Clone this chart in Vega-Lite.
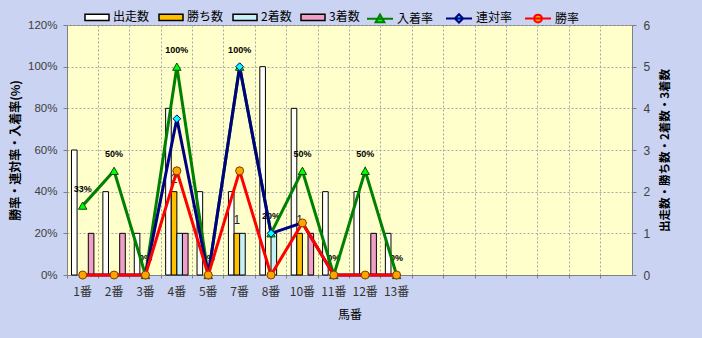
{
  "$schema": "https://vega.github.io/schema/vega-lite/v6.json",
  "width": 565,
  "height": 250,
  "autosize": {"type": "none"},
  "padding": {"left": 67, "top": 25, "right": 70, "bottom": 63},
  "background": "#CAD3F1",
  "config": {
    "view": {"fill": "#FFFFCC", "stroke": "#808080", "strokeWidth": 1},
    "font": "Noto Sans CJK JP",
    "axis": {
      "domainColor": "#808080",
      "tickColor": "#808080",
      "gridColor": "#A8A8A8",
      "gridDash": [2, 2],
      "titleColor": "#000000",
      "labelColor": "#404040"
    }
  },
  "datasets": {
    "counts": [
      {"horse": "1番", "type": "出走数", "count": 3},
      {"horse": "1番", "type": "勝ち数", "count": 0},
      {"horse": "1番", "type": "2着数", "count": 0},
      {"horse": "1番", "type": "3着数", "count": 1},
      {"horse": "2番", "type": "出走数", "count": 2},
      {"horse": "2番", "type": "勝ち数", "count": 0},
      {"horse": "2番", "type": "2着数", "count": 0},
      {"horse": "2番", "type": "3着数", "count": 1},
      {"horse": "3番", "type": "出走数", "count": 1},
      {"horse": "3番", "type": "勝ち数", "count": 0},
      {"horse": "3番", "type": "2着数", "count": 0},
      {"horse": "3番", "type": "3着数", "count": 0},
      {"horse": "4番", "type": "出走数", "count": 4},
      {"horse": "4番", "type": "勝ち数", "count": 2},
      {"horse": "4番", "type": "2着数", "count": 1},
      {"horse": "4番", "type": "3着数", "count": 1},
      {"horse": "5番", "type": "出走数", "count": 2},
      {"horse": "5番", "type": "勝ち数", "count": 0},
      {"horse": "5番", "type": "2着数", "count": 0},
      {"horse": "5番", "type": "3着数", "count": 0},
      {"horse": "7番", "type": "出走数", "count": 2},
      {"horse": "7番", "type": "勝ち数", "count": 1},
      {"horse": "7番", "type": "2着数", "count": 1},
      {"horse": "7番", "type": "3着数", "count": 0},
      {"horse": "8番", "type": "出走数", "count": 5},
      {"horse": "8番", "type": "勝ち数", "count": 0},
      {"horse": "8番", "type": "2着数", "count": 1},
      {"horse": "8番", "type": "3着数", "count": 0},
      {"horse": "10番", "type": "出走数", "count": 4},
      {"horse": "10番", "type": "勝ち数", "count": 1},
      {"horse": "10番", "type": "2着数", "count": 0},
      {"horse": "10番", "type": "3着数", "count": 1},
      {"horse": "11番", "type": "出走数", "count": 2},
      {"horse": "11番", "type": "勝ち数", "count": 0},
      {"horse": "11番", "type": "2着数", "count": 0},
      {"horse": "11番", "type": "3着数", "count": 0},
      {"horse": "12番", "type": "出走数", "count": 2},
      {"horse": "12番", "type": "勝ち数", "count": 0},
      {"horse": "12番", "type": "2着数", "count": 0},
      {"horse": "12番", "type": "3着数", "count": 1},
      {"horse": "13番", "type": "出走数", "count": 1},
      {"horse": "13番", "type": "勝ち数", "count": 0},
      {"horse": "13番", "type": "2着数", "count": 0},
      {"horse": "13番", "type": "3着数", "count": 0}
    ],
    "rates": [
      {"horse": "1番", "series": "入着率", "rate": 0.333},
      {"horse": "2番", "series": "入着率", "rate": 0.5},
      {"horse": "3番", "series": "入着率", "rate": 0},
      {"horse": "4番", "series": "入着率", "rate": 1},
      {"horse": "5番", "series": "入着率", "rate": 0},
      {"horse": "7番", "series": "入着率", "rate": 1},
      {"horse": "8番", "series": "入着率", "rate": 0.2},
      {"horse": "10番", "series": "入着率", "rate": 0.5},
      {"horse": "11番", "series": "入着率", "rate": 0},
      {"horse": "12番", "series": "入着率", "rate": 0.5},
      {"horse": "13番", "series": "入着率", "rate": 0},
      {"horse": "1番", "series": "連対率", "rate": 0},
      {"horse": "2番", "series": "連対率", "rate": 0},
      {"horse": "3番", "series": "連対率", "rate": 0},
      {"horse": "4番", "series": "連対率", "rate": 0.75},
      {"horse": "5番", "series": "連対率", "rate": 0},
      {"horse": "7番", "series": "連対率", "rate": 1},
      {"horse": "8番", "series": "連対率", "rate": 0.2},
      {"horse": "10番", "series": "連対率", "rate": 0.25},
      {"horse": "11番", "series": "連対率", "rate": 0},
      {"horse": "12番", "series": "連対率", "rate": 0},
      {"horse": "13番", "series": "連対率", "rate": 0},
      {"horse": "1番", "series": "勝率", "rate": 0},
      {"horse": "2番", "series": "勝率", "rate": 0},
      {"horse": "3番", "series": "勝率", "rate": 0},
      {"horse": "4番", "series": "勝率", "rate": 0.5},
      {"horse": "5番", "series": "勝率", "rate": 0},
      {"horse": "7番", "series": "勝率", "rate": 0.5},
      {"horse": "8番", "series": "勝率", "rate": 0},
      {"horse": "10番", "series": "勝率", "rate": 0.25},
      {"horse": "11番", "series": "勝率", "rate": 0},
      {"horse": "12番", "series": "勝率", "rate": 0},
      {"horse": "13番", "series": "勝率", "rate": 0}
    ]
  },
  "encoding": {
    "x": {
      "field": "horse",
      "type": "nominal",
      "scale": {
        "domain": ["1番", "2番", "3番", "4番", "5番", "7番", "8番", "10番", "11番", "12番", "13番", " ", "  ", "   ", "    ", "     ", "      ", "       "],
        "paddingInner": 0,
        "paddingOuter": 0
      },
      "axis": {
        "labelAngle": 0,
        "bandPosition": 0,
        "grid": true,
        "tickSize": 3,
        "labelPadding": 8,
        "labelFont": "Noto Sans CJK JP",
        "labelFontSize": 12,
        "labelColor": "#333333",
        "titleFont": "Noto Sans CJK JP",
        "titleFontSize": 12,
        "titleFontWeight": "normal",
        "titlePadding": 12
      },
      "title": "馬番"
    }
  },
  "layer": [
    {
      "data": {"name": "counts"},
      "encoding": {
        "y": {
          "field": "count",
          "type": "quantitative",
          "scale": {"domain": [0, 6], "nice": false},
          "axis": {
            "orient": "right",
            "values": [0, 1, 2, 3, 4, 5, 6],
            "format": "d",
            "grid": false,
            "tickSize": 4,
            "labelPadding": 7,
            "labelFont": "Liberation Sans",
            "labelFontSize": 12,
            "title": "出走数・勝ち数・2着数・3着数",
            "titleAngle": 270,
            "titleFont": "Noto Sans CJK JP",
            "titleFontSize": 11.5,
            "titleFontWeight": "bold",
            "titlePadding": 21
          }
        }
      },
      "layer": [
        {
          "transform": [{"filter": "datum.count > 0"}],
          "mark": {"type": "bar", "stroke": "#000000", "strokeWidth": 1},
          "encoding": {
            "xOffset": {
              "field": "type",
              "type": "nominal",
              "scale": {"domain": ["出走数", "勝ち数", "2着数", "3着数"], "paddingInner": 0, "paddingOuter": 0.8}
            },
            "fill": {
              "field": "type",
              "type": "nominal",
              "scale": {"domain": ["出走数", "勝ち数", "2着数", "3着数"], "range": ["#FFFFFF", "#FFC000", "#C8F0F8", "#F0A0C8"]},
              "legend": {
                "orient": "none",
                "legendX": 17,
                "legendY": -21,
                "direction": "horizontal",
                "title": null,
                "symbolType": "M-1,-0.27H1V0.27H-1Z",
                "symbolSize": 576,
                "symbolStrokeColor": "#000000",
                "symbolStrokeWidth": 1.5,
                "symbolOpacity": 1,
                "labelFont": "Noto Sans CJK JP",
                "labelFontSize": 12,
                "labelColor": "#000000",
                "labelOffset": 3,
                "columnPadding": 6,
                "encode": {"symbols": {"update": {"stroke": {"value": "#000000"}, "strokeWidth": {"value": 1.5}}}}
              }
            }
          }
        },
        {
          "transform": [{"filter": "datum.type === '勝ち数' && datum.count > 0"}],
          "mark": {"type": "text", "baseline": "alphabetic", "dy": -9, "font": "Liberation Sans", "fontSize": 12, "color": "#222222"},
          "encoding": {
            "xOffset": {
              "field": "type",
              "type": "nominal",
              "scale": {"domain": ["出走数", "勝ち数", "2着数", "3着数"], "paddingInner": 0, "paddingOuter": 0.8}
            },
            "text": {"field": "count", "type": "quantitative"}
          }
        }
      ]
    },
    {
      "encoding": {
        "y": {
          "field": "rate",
          "type": "quantitative",
          "scale": {"domain": [0, 1.2], "nice": false},
          "axis": {
            "orient": "left",
            "values": [0, 0.2, 0.4, 0.6, 0.8, 1, 1.2],
            "format": ".0%",
            "grid": true,
            "tickSize": 4,
            "labelPadding": 6,
            "labelFont": "Liberation Sans",
            "labelFontSize": 11.5,
            "title": "勝率・連対率・入着率(%)",
            "titleFont": "Noto Sans CJK JP",
            "titleFontSize": 12,
            "titleFontWeight": "bold",
            "titlePadding": 5
          }
        }
      },
      "layer": [
        {
          "data": {"values": [{"note": "©Caniの競馬データ研究室"}]},
          "mark": {"type": "text", "align": "left", "baseline": "middle", "dx": 6, "font": "Noto Sans CJK JP", "fontSize": 14, "color": "#8E8EEE"},
          "encoding": {
            "x": {"datum": "1番", "type": "nominal", "bandPosition": 0},
            "y": {"datum": 1.1376, "type": "quantitative"},
            "text": {"field": "note", "type": "nominal"}
          }
        },
        {
          "data": {"name": "rates"},
          "transform": [{"filter": "datum.series === '入着率'"}],
          "mark": {"type": "text", "baseline": "middle", "dy": -17, "font": "Liberation Sans", "fontSize": 9, "fontWeight": "bold", "color": "#000000"},
          "encoding": {
            "text": {"field": "rate", "type": "quantitative", "format": ".0%"}
          }
        },
        {
          "data": {"name": "rates"},
          "mark": {"type": "line", "strokeWidth": 3},
          "encoding": {
            "stroke": {
              "field": "series",
              "type": "nominal",
              "scale": {"domain": ["入着率", "連対率", "勝率"], "range": ["#008000", "#000080", "#FF0000"]},
              "legend": {
                "orient": "none",
                "legendX": 299,
                "legendY": -21,
                "direction": "horizontal",
                "title": null,
                "symbolSize": 676,
                "symbolStrokeWidth": 2,
                "labelFont": "Noto Sans CJK JP",
                "labelFontSize": 12,
                "labelColor": "#000000",
                "labelOffset": 3,
                "columnPadding": 8,
                "encode": {
                  "symbols": {
                    "update": {
                      "shape": {"signal": "datum.value === '入着率' ? 'M-1,0H1M-0.34,0.28L0,-0.32L0.34,0.28Z' : datum.value === '連対率' ? 'M-1,0H1M0,-0.32L0.32,0L0,0.32L-0.32,0Z' : 'M-1,0H1M-0.3,0A0.3,0.3,0,1,0,0.3,0A0.3,0.3,0,1,0,-0.3,0Z'"},
                      "fill": {"signal": "datum.value === '入着率' ? '#00FF00' : datum.value === '連対率' ? '#00FFFF' : '#FFA500'"},
                      "strokeWidth": {"value": 2},
                      "opacity": {"value": 1}
                    }
                  }
                }
              }
            }
          }
        },
        {
          "data": {"name": "rates"},
          "transform": [{"filter": "datum.series === '入着率'"}],
          "mark": {"type": "point", "shape": "triangle-up", "filled": true, "size": 70, "fill": "#00FF00", "stroke": "#005000", "strokeWidth": 1, "opacity": 1}
        },
        {
          "data": {"name": "rates"},
          "transform": [{"filter": "datum.series === '連対率'"}],
          "mark": {"type": "point", "shape": "diamond", "filled": true, "size": 60, "fill": "#00FFFF", "stroke": "#000080", "strokeWidth": 1, "opacity": 1}
        },
        {
          "data": {"name": "rates"},
          "transform": [{"filter": "datum.series === '勝率'"}],
          "mark": {"type": "point", "shape": "circle", "filled": true, "size": 64, "fill": "#FFA500", "stroke": "#804000", "strokeWidth": 1, "opacity": 1}
        }
      ]
    }
  ],
  "resolve": {"scale": {"y": "independent"}}
}
